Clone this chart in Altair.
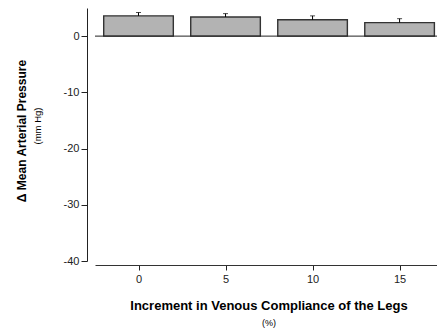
import altair as alt
import pandas as pd

compliance = [0, 5, 10, 15]
delta_map = [3.6, 3.4, 2.9, 2.4]
sem = [0.6, 0.6, 0.7, 0.7]

df = pd.DataFrame({"c": compliance, "v": delta_map, "e": sem})
FONT = "Liberation Sans"

xscale = alt.Scale(domain=[-2.5, 17.15], nice=False, zero=False)
yscale = alt.Scale(domain=[-40, 5], nice=False)

base = alt.Chart(df).transform_calculate(
    x0="datum.c - 2", x1="datum.c + 2", top="datum.v + datum.e"
)

bars = base.mark_bar(color="#b3b3b3", stroke="#333333", strokeWidth=1.4).encode(
    x=alt.X("x0:Q", scale=xscale,
            axis=alt.Axis(values=compliance, title=None, grid=False, offset=4,
                          domainColor="#333", tickColor="#222", tickSize=5,
                          labelFont=FONT, labelFontSize=11, labelColor="#222",
                          labelPadding=3, labelExpr="'' + datum.value")),
    x2="x1:Q",
    y=alt.Y("v:Q", scale=yscale,
            axis=alt.Axis(values=list(range(-40, 6, 5)), title=None, grid=False,
                          offset=8, domainColor="#222", tickColor="#222", tickSize=6,
                          labelExpr="datum.value % 10 == 0 ? '' + datum.value : ''",
                          labelFont=FONT, labelFontSize=11, labelColor="#222",
                          labelPadding=2)),
    y2=alt.datum(0),
)

err = base.mark_rule(color="black", strokeWidth=1).encode(
    x=alt.X("c:Q", scale=xscale), y=alt.Y("v:Q", scale=yscale), y2="top:Q"
)
cap = base.mark_tick(color="black", thickness=1, size=5, orient="horizontal").encode(
    x=alt.X("c:Q", scale=xscale), y=alt.Y("top:Q", scale=yscale)
)

zero = alt.Chart(pd.DataFrame({"z": [0]})).mark_rule(color="#222", strokeWidth=1).encode(
    y=alt.Y("z:Q", scale=yscale), x=alt.value(0), x2=alt.value(342)
)

def label(txt, x, y, size, weight, angle=0):
    return alt.Chart(pd.DataFrame({"t": [txt]})).mark_text(
        font=FONT, fontSize=size, fontWeight=weight, angle=angle,
        baseline="middle", align="center", color="black"
    ).encode(text="t:N", x=alt.value(x), y=alt.value(y))

ytitle = label("\u0394 Mean Arterial Pressure", -73.5, 123, 12, "bold", 270)
ysub = label("(mm Hg)", -57.5, 118, 9.5, "normal", 270)
xtitle = label("Increment in Venous Compliance of the Legs", 174, 298, 13, "bold")
xsub = label("(%)", 174, 315, 9, "normal")

chart = alt.layer(bars, zero, err, cap, ytitle, ysub, xtitle, xsub).properties(
    width=342, height=253,
    autosize=alt.AutoSizeParams(type="none"),
    padding={"left": 95, "top": 8, "right": 0, "bottom": 68},
    background="white",
).configure_view(stroke=None)

chart.save("out.html", embed_options={"renderer": "svg", "actions": False})
